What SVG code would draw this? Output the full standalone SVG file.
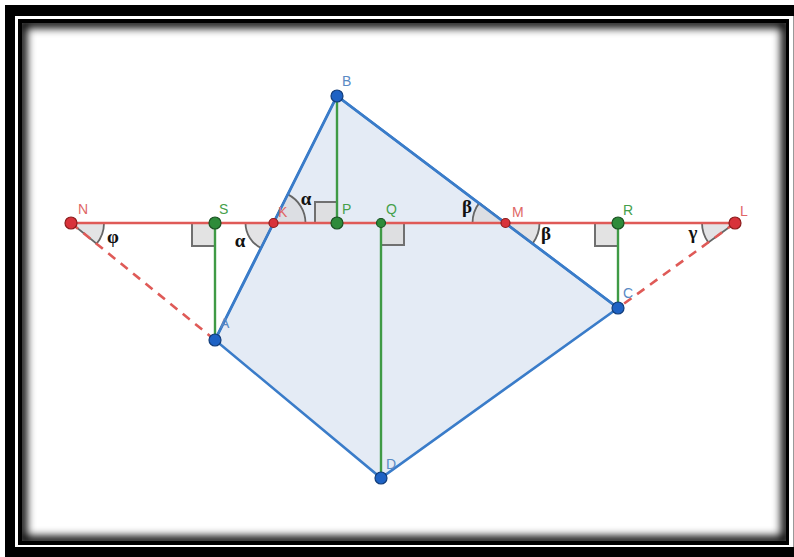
<svg xmlns="http://www.w3.org/2000/svg" width="794" height="557" viewBox="0 0 794 557">
<defs>
<style>
.red{stroke:#df5a57;stroke-width:2.4;fill:none}
.dash{stroke:#df5a57;stroke-width:2.6;fill:none;stroke-dasharray:9 7}
.grn{stroke:#3f9a45;stroke-width:2.4;fill:none}
.blu{stroke:#3a7cc9;stroke-width:2.6}
.ang{fill:#d9dadc;fill-opacity:0.75;stroke:#666;stroke-width:1.8}
.sq{fill:#dcdcdc;fill-opacity:0.8;stroke:#707070;stroke-width:2}
.pr{fill:#d8323a;stroke:#8c1d1d;stroke-width:1.2}
.pg{fill:#2e8b3a;stroke:#1a5222;stroke-width:1.2}
.pb{fill:#1e62c4;stroke:#123d7a;stroke-width:1.2}
.lab{font-family:"Liberation Sans",Arial,sans-serif;font-size:14px}
.lr{fill:#e06666}.lg{fill:#45a04a}.lb{fill:#5a8ac4}
.gk{font-family:"Liberation Serif","Times New Roman",serif;font-size:19px;font-weight:bold;fill:#111;text-anchor:middle}
</style>
<filter id="blur" x="-5%" y="-5%" width="110%" height="110%"><feGaussianBlur stdDeviation="4"/></filter>
<clipPath id="inner"><rect x="22" y="23" width="764" height="518"/></clipPath>
</defs>
<g id="frame">
<rect x="0" y="0" width="794" height="557" fill="#fff"/>
<rect x="5" y="5" width="789" height="552" fill="#000"/>
<rect x="15" y="16" width="779" height="531" fill="#fff"/>
<rect x="793" y="16" width="1" height="531" fill="#999"/>
<rect x="18" y="19" width="771" height="526" fill="#000"/>
<rect x="22" y="23" width="764" height="518" fill="#fff"/>
<rect x="22" y="23" width="764" height="518" fill="none" stroke="#000" stroke-width="10" filter="url(#blur)" clip-path="url(#inner)"/>
</g>
<g id="quad">
<polygon class="blu" points="215,340 337,96 618,308 381,478" fill="#e4ebf5"/>
</g>
<g id="angles">
<path class="ang" d="M71,223 L104,223 A33,33 0 0 1 96.6,243.8 Z"/>
<path class="ang" d="M273.5,223 L261,248 A28,28 0 0 1 245.5,223 Z"/>
<path class="ang" d="M273.5,223 L287.8,194.4 A32,32 0 0 1 305.5,223 Z"/>
<path class="ang" d="M505.5,223 L472.5,223 A33,33 0 0 1 479.1,203.1 Z"/>
<path class="ang" d="M505.5,223 L539.5,223 A34,34 0 0 1 532.7,243.5 Z"/>
<path class="ang" d="M735,223 L708.3,242.4 A33,33 0 0 1 702,223 Z"/>
<rect class="sq" x="192" y="223" width="23" height="23"/>
<rect class="sq" x="315" y="202" width="22" height="21"/>
<rect class="sq" x="381" y="223" width="23" height="22"/>
<rect class="sq" x="595" y="223" width="23" height="23"/>
</g>
<g id="connectors">
<line class="red" x1="71" y1="223" x2="735" y2="223"/>
<line class="dash" x1="71" y1="223" x2="215" y2="340"/>
<line class="dash" x1="735" y1="223" x2="618" y2="308"/>
<line class="grn" x1="215" y1="223" x2="215" y2="340"/>
<line class="grn" x1="337" y1="96" x2="337" y2="223"/>
<line class="grn" x1="381" y1="223" x2="381" y2="478"/>
<line class="grn" x1="618" y1="223" x2="618" y2="308"/>
<line class="blu" x1="215" y1="340" x2="337" y2="96"/>
<line class="blu" x1="337" y1="96" x2="618" y2="308"/>
</g>
<g id="greek">
<text class="gk" x="113" y="243">φ</text>
<text class="gk" x="240" y="247">α</text>
<text class="gk" x="306" y="205">α</text>
<text class="gk" x="467" y="213">β</text>
<text class="gk" x="546" y="240">β</text>
<text class="gk" x="693" y="239">γ</text>
</g>
<g id="N"><circle class="pr" cx="71" cy="223" r="6"/><text class="lab lr" x="78" y="214">N</text></g>
<g id="S"><circle class="pg" cx="215" cy="223" r="6"/><text class="lab lg" x="219" y="214">S</text></g>
<g id="K"><circle class="pr" cx="273.5" cy="223" r="4.5"/><text class="lab lr" x="278" y="217">K</text></g>
<g id="P"><circle class="pg" cx="337" cy="223" r="6"/><text class="lab lg" x="342" y="214">P</text></g>
<g id="Q"><circle class="pg" cx="381" cy="223" r="4.5"/><text class="lab lg" x="386" y="214">Q</text></g>
<g id="M"><circle class="pr" cx="505.5" cy="223" r="4.5"/><text class="lab lr" x="512" y="217">M</text></g>
<g id="R"><circle class="pg" cx="618" cy="223" r="6"/><text class="lab lg" x="623" y="215">R</text></g>
<g id="L"><circle class="pr" cx="735" cy="223" r="6"/><text class="lab lr" x="740" y="216">L</text></g>
<g id="B"><circle class="pb" cx="337" cy="96" r="6"/><text class="lab lb" x="342" y="86">B</text></g>
<g id="A"><circle class="pb" cx="215" cy="340" r="6"/><text class="lab lb" x="220" y="328">A</text></g>
<g id="C"><circle class="pb" cx="618" cy="308" r="6"/><text class="lab lb" x="623" y="298">C</text></g>
<g id="D"><circle class="pb" cx="381" cy="478" r="6"/><text class="lab lb" x="386" y="469">D</text></g>
</svg>
